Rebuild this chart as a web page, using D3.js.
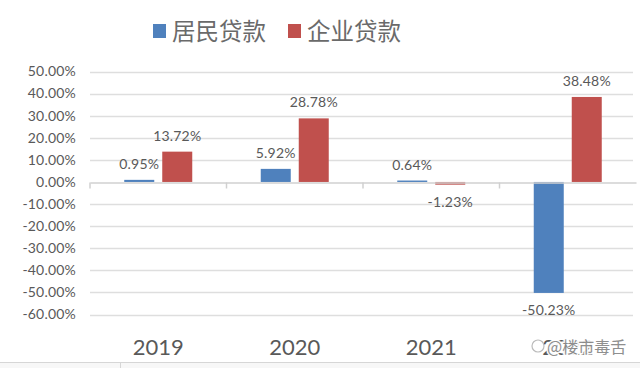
<!DOCTYPE html>
<html><head><meta charset="utf-8">
<script src="https://cdn.jsdelivr.net/npm/d3@7"></script>
<style>
html,body{margin:0;padding:0;background:#fff;}
svg{display:block;}
</style></head>
<body>
<svg id="chart" width="640" height="368"></svg>
<script>
const categories = ["2019", "2020", "2021", "2022"];
const seriesNames = ["居民贷款", "企业贷款"];
const seriesColors = ["#4F81BD", "#C0504D"];
const household = [0.0095, 0.0592, 0.0064, -0.5023];
const corporate = [0.1372, 0.2878, -0.0123, 0.3848];
const yTicks = [0.5, 0.4, 0.3, 0.2, 0.1, 0, -0.1, -0.2, -0.3, -0.4, -0.5, -0.6];
const watermark = "@楼市毒舌";

const svg = d3.select("#chart");
const font = "Lato, 'Open Sans', sans-serif";
const cjk = "'Noto Sans CJK SC', sans-serif";
const grey = "#595959";
const pct = d3.formatLocale({decimal: ".", thousands: ",", grouping: [3], currency: ["", ""], minus: "-"}).format(".2%");

const left = 90, right = 636;
const y = d3.scaleLinear().domain([-0.6, 0.5]).range([314.5, 71.5]);
const x0 = d3.scaleBand().domain(categories).range([left, right]).padding(0);
const x1 = d3.scaleBand().domain(seriesNames).range([-34, 34]).paddingInner(0.2105).paddingOuter(0);

// gridlines
svg.append("g").selectAll("line").data(yTicks.filter(d => d !== 0)).join("line")
  .attr("x1", left).attr("x2", 633)
  .attr("y1", d => Math.round(y(d)) + 0.5).attr("y2", d => Math.round(y(d)) + 0.5)
  .attr("stroke", "#dedede").attr("stroke-width", 1.5);

// y tick labels
svg.append("g").selectAll("text").data(yTicks).join("text")
  .attr("x", 76).attr("y", d => y(d)).attr("dy", "0.35em")
  .attr("text-anchor", "end").attr("font-family", font).attr("font-size", 14)
  .attr("letter-spacing", 0.2)
  .attr("fill", grey).text(d => pct(d));

// bars
const data = [];
categories.forEach((c, i) => {
  data.push({cat: c, s: seriesNames[0], v: household[i], color: seriesColors[0]});
  data.push({cat: c, s: seriesNames[1], v: corporate[i], color: seriesColors[1]});
});
const bx = d => x0(d.cat) + x0.bandwidth() / 2 + x1(d.s);
svg.append("g").selectAll("rect").data(data).join("rect")
  .attr("x", bx).attr("width", x1.bandwidth())
  .attr("y", d => y(Math.max(0, d.v)))
  .attr("height", d => Math.abs(y(d.v) - y(0)))
  .attr("fill", d => d.color);

// zero axis with ticks
const zy = Math.round(y(0)) + 0.5;
const axis = svg.append("g").attr("transform", `translate(0,${zy})`)
  .call(d3.axisBottom(x0).tickSize(0).tickFormat(""));
axis.select(".domain").attr("stroke", "#d0d0d0").attr("stroke-width", 1.5);
const bounds = categories.map(c => x0(c));
svg.append("g").selectAll("line").data(bounds).join("line")
  .attr("x1", d => d).attr("x2", d => d)
  .attr("y1", zy).attr("y2", zy + 6)
  .attr("stroke", "#d0d0d0").attr("stroke-width", 1.5);

// data labels
svg.append("g").selectAll("text").data(data).join("text")
  .attr("x", d => bx(d) + x1.bandwidth() / 2)
  .attr("y", d => d.v >= 0 ? y(d.v) - 11 : y(d.v) + 22)
  .attr("text-anchor", "middle").attr("font-family", font).attr("font-size", 14)
  .attr("letter-spacing", 0.2)
  .attr("fill", grey).text(d => pct(d.v));

// category labels
svg.append("g").selectAll("text").data(categories).join("text")
  .attr("x", d => x0(d) + x0.bandwidth() / 2).attr("y", 355)
  .attr("text-anchor", "middle").attr("font-family", font).attr("font-size", 22)
  .attr("fill", grey).text(d => d);

// legend
const legX = [153, 288];
const lg = svg.append("g").selectAll("g").data(seriesNames).join("g")
  .attr("transform", (d, i) => `translate(${legX[i]},0)`);
lg.append("rect").attr("x", 0).attr("y", 24).attr("width", 13).attr("height", 14)
  .attr("fill", (d, i) => seriesColors[i]);
lg.append("text").attr("x", 19).attr("y", 40).attr("font-family", cjk)
  .attr("font-size", 23.5).attr("fill", "#6a6a6a").text(d => d);

// watermark
const wm = svg.append("g");
wm.append("circle").attr("cx", 538).attr("cy", 346).attr("r", 6)
  .attr("fill", "#fff").attr("stroke", "#bbb").attr("stroke-width", 1.2);
wm.append("text").attr("x", 547).attr("y", 353).attr("font-family", cjk)
  .attr("font-size", 16).attr("fill", "#8a8a8a")
  .attr("stroke", "#ffffff").attr("stroke-width", 3).attr("paint-order", "stroke")
  .attr("opacity", 0.95).text(watermark);

// bottom strip
svg.append("rect").attr("x", 0).attr("y", 362).attr("width", 640).attr("height", 6).attr("fill", "#f7f7f7");
svg.append("line").attr("x1", 0).attr("x2", 640).attr("y1", 362.5).attr("y2", 362.5).attr("stroke", "#d6d6d6");
svg.append("line").attr("x1", 120.5).attr("x2", 120.5).attr("y1", 362).attr("y2", 368).attr("stroke", "#d6d6d6");
</script>
</body></html>
